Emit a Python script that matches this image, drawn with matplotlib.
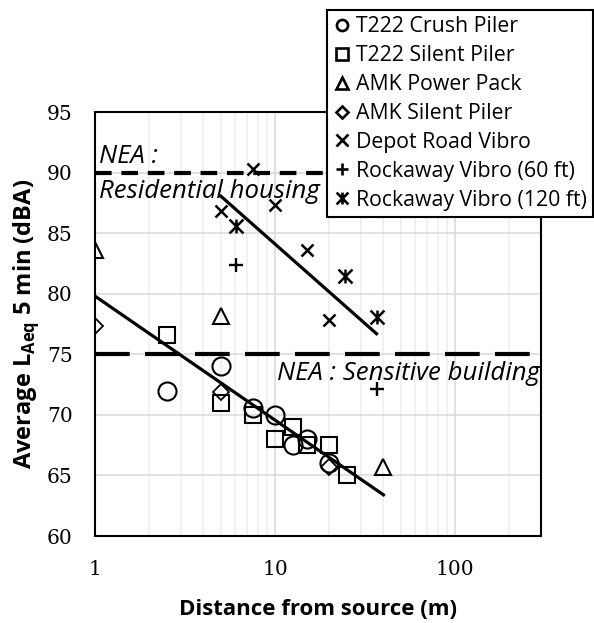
import matplotlib
matplotlib.use("Agg")
import matplotlib.pyplot as plt
from matplotlib.path import Path
from matplotlib.ticker import FixedLocator, NullFormatter, LogLocator, FuncFormatter

# measured levels, LAeq 5 min (dBA) against distance (m)
crush_x = [2.5, 5, 7.5, 10, 12.5, 15, 20]
crush_y = [72.0, 74.0, 70.6, 70.0, 67.5, 68.0, 66.0]

silent_x = [2.5, 5, 7.5, 10, 12.5, 15, 20, 25]
silent_y = [76.6, 71.0, 70.0, 68.0, 69.0, 67.5, 67.5, 65.0]

amk_pp_x = [1, 5, 40]
amk_pp_y = [83.6, 78.2, 65.7]

amk_sp_x = [1, 5, 20]
amk_sp_y = [77.3, 71.9, 65.7]

depot_x = [5, 7.5, 10, 15, 20]
depot_y = [86.8, 90.3, 87.3, 83.6, 77.8]

rock60_x = [6.1, 36.6]
rock60_y = [82.4, 72.1]

rock120_x = [6.1, 24.4, 36.6]
rock120_y = [85.6, 81.5, 78.1]

# log trendlines (straight on a log axis), end points
trend_low_x = [1, 40]
trend_low_y = [79.8, 63.4]
trend_high_x = [5, 36.6]
trend_high_y = [88.05, 76.7]

nea_residential = 90
nea_sensitive = 75

plt.rcParams["lines.scale_dashes"] = False
plt.rcParams["mathtext.fontset"] = "custom"
plt.rcParams["mathtext.rm"] = "Open Sans"
plt.rcParams["mathtext.bf"] = "Open Sans:bold"

SANS = "Open Sans"
SERIF = "DejaVu Serif"

# Excel style "star": an x with a vertical bar
star = Path(
    [(-0.5, -0.5), (0.5, 0.5), (-0.5, 0.5), (0.5, -0.5), (0, -0.5), (0, 0.5)],
    [Path.MOVETO, Path.LINETO, Path.MOVETO, Path.LINETO, Path.MOVETO, Path.LINETO],
)

fig = plt.figure(figsize=(5.94, 6.23), dpi=100)
ax = fig.add_axes([0.160, 0.1396, 0.7508, 0.6806])

ax.set_xscale("log")
ax.set_xlim(1, 300)
ax.set_ylim(60, 95)

ax.xaxis.set_major_locator(FixedLocator([1, 10, 100]))
ax.xaxis.set_major_formatter(FuncFormatter(lambda v, p: f"{v:g}"))
ax.xaxis.set_minor_locator(LogLocator(base=10, subs=range(2, 10)))
ax.xaxis.set_minor_formatter(NullFormatter())
ax.set_yticks(range(60, 96, 5))

ax.grid(True, which="major", color="#d9d9d9", lw=1.1, zorder=0)
ax.grid(True, which="minor", axis="x", color="#eeeeee", lw=1.1, zorder=0)
ax.set_axisbelow(True)

for s in ax.spines.values():
    s.set_linewidth(1.5)
    s.set_color("black")

ax.tick_params(which="both", length=0)
ax.tick_params(axis="x", pad=17)
ax.tick_params(axis="y", pad=16)
for lab in ax.get_xticklabels() + ax.get_yticklabels():
    lab.set_fontfamily(SERIF)
    lab.set_fontsize(14.5)

# NEA limits
ax.axhline(nea_residential, color="black", lw=3, dashes=(12, 7), zorder=2)
ax.axhline(nea_sensitive, color="black", lw=3, dashes=(25, 11), zorder=2)

ax.text(1.05, 91.35, "NEA :", fontsize=18.5, style="italic", family=SANS,
        va="center", ha="left")
ax.text(1.05, 88.4, "Residential housing", fontsize=18.5, style="italic",
        family=SANS, va="center", ha="left")
ax.text(297, 73.4, "NEA : Sensitive building", fontsize=18.5, style="italic",
        family=SANS, va="center", ha="right")

# trendlines
ax.plot(trend_low_x, trend_low_y, color="black", lw=2.3, zorder=3)
ax.plot(trend_high_x, trend_high_y, color="black", lw=2.3, zorder=3)

kw = dict(linestyle="none", mfc="none", mec="black", zorder=4)
h1, = ax.plot(crush_x, crush_y, marker="o", ms=13, mew=1.5, label="T222 Crush Piler", **kw)
h2, = ax.plot(silent_x, silent_y, marker="s", ms=12, mew=1.5, label="T222 Silent Piler", **kw)
h3, = ax.plot(amk_pp_x, amk_pp_y, marker="^", ms=11, mew=1.5, label="AMK Power Pack", **kw)
h4, = ax.plot(amk_sp_x, amk_sp_y, marker="D", ms=8.5, mew=1.3, label="AMK Silent Piler", **kw)
h5, = ax.plot(depot_x, depot_y, marker="x", ms=9, mew=1.8, label="Depot Road Vibro", **kw)
h6, = ax.plot(rock60_x, rock60_y, marker="+", ms=10, mew=1.7, label="Rockaway Vibro (60 ft)", **kw)
h7, = ax.plot(rock120_x, rock120_y, marker=star, ms=10, mew=1.8, label="Rockaway Vibro (120 ft)", **kw)

ax.set_xlabel("Distance from source (m)", fontsize=16, fontweight="bold",
              family=SANS, labelpad=15)
ax.set_ylabel(r"Average L$_{\mathbf{Aeq}}$ 5 min (dBA)", fontsize=17,
              fontweight="bold", family=SANS)
ax.yaxis.set_label_coords(-0.121, 0.5)

leg = fig.legend(
    handles=[h1, h2, h3, h4, h5, h6, h7],
    loc="upper left",
    bbox_to_anchor=(327 / 594, 1 - 10 / 623),
    frameon=True,
    fancybox=False,
    edgecolor="black",
    framealpha=1,
    handlelength=0.8,
    handletextpad=0.25,
    labelspacing=0.37,
    borderpad=0.3,
    borderaxespad=0,
    prop={"family": SANS, "size": 15.3},
)
leg.get_frame().set_linewidth(1.5)
# legend symbols are drawn a little smaller than in the plot
for hnd, ms in zip(leg.legend_handles, [8, 8, 8, 6, 8.5, 9, 8.5]):
    hnd.set_markersize(ms)
    hnd.set_markeredgewidth(1.9)

fig.savefig("out.png", dpi=100)
